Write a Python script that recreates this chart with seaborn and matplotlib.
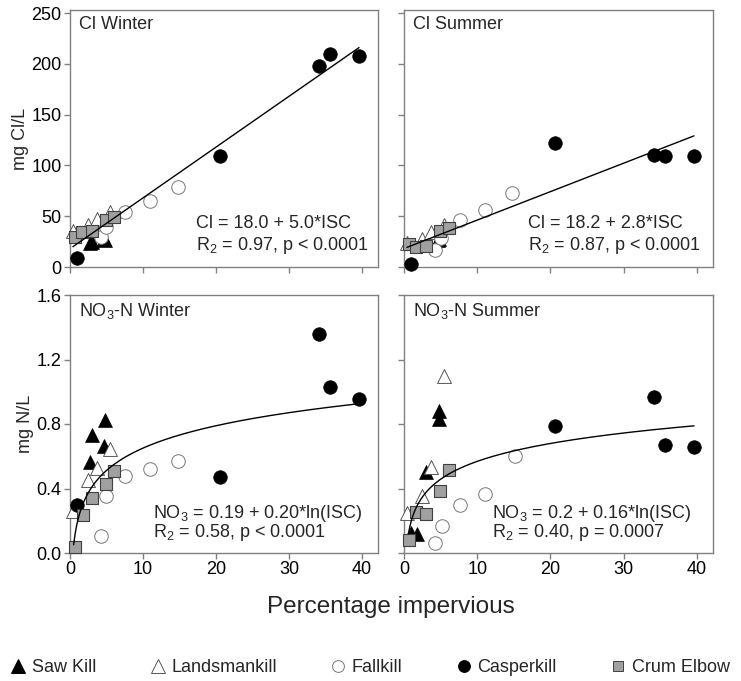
import numpy as np
import pandas as pd
import matplotlib
matplotlib.use("Agg")
import matplotlib.pyplot as plt
from matplotlib.lines import Line2D
import seaborn as sns

sns.set_style("ticks")
plt.rcParams['font.family'] = ['Liberation Sans', 'DejaVu Sans']
plt.rcParams['mathtext.fontset'] = 'custom'
plt.rcParams['mathtext.rm'] = 'Liberation Sans'
plt.rcParams['mathtext.it'] = 'Liberation Sans'

site_names = ["Saw Kill", "Landsmankill", "Fallkill", "Casperkill", "Crum Elbow"]

# Cl winter (mg Cl/L)
clw_site = ["Saw Kill"]*4 + ["Landsmankill"]*4 + ["Fallkill"]*5 + ["Casperkill"]*5 + ["Crum Elbow"]*5
clw_x = [2.7, 3.0, 4.6, 4.8,  0.4, 2.4, 3.7, 5.5,  4.3, 5.0, 7.6, 11.0, 14.8,
         1.0, 20.6, 34.1, 35.6, 39.6,  0.7, 1.7, 3.0, 4.9, 6.0]
clw_y = [24, 25, 28, 27,  35, 41, 47, 54,  30, 39, 54, 65, 79,
         8.5, 109, 198, 210, 208,  30, 34, 35, 46, 49]

# Cl summer (mg Cl/L)
cls_site = ["Saw Kill"]*4 + ["Landsmankill"]*4 + ["Fallkill"]*5 + ["Casperkill"]*5 + ["Crum Elbow"]*5
cls_x = [2.7, 3.0, 4.6, 4.8,  0.4, 2.4, 3.7, 5.5,  4.3, 5.0, 7.6, 11.0, 14.8,
         1.0, 20.6, 34.1, 35.6, 39.6,  0.7, 1.7, 3.0, 4.9, 6.1]
cls_y = [22, 23, 27, 28,  24, 28, 34, 41,  17, 29, 46, 56, 73,
         2.5, 122, 110, 109, 109,  23, 20, 21, 35, 38]

# NO3-N winter (mg N/L)
nw_site = ["Saw Kill"]*4 + ["Landsmankill"]*4 + ["Fallkill"]*5 + ["Casperkill"]*5 + ["Crum Elbow"]*5
nw_x = [2.7, 3.0, 4.6, 4.8,  0.4, 2.4, 3.7, 5.5,  4.3, 5.0, 7.6, 11.0, 14.8,
        1.0, 20.6, 34.1, 35.6, 39.6,  0.7, 1.8, 3.0, 5.0, 6.0]
nw_y = [0.566, 0.73, 0.665, 0.825,  0.26, 0.45, 0.53, 0.645,  0.107, 0.353, 0.48, 0.52, 0.57,
        0.30, 0.47, 1.36, 1.03, 0.953,  0.035, 0.235, 0.34, 0.43, 0.51]

# NO3-N summer (mg N/L)
ns_site = ["Saw Kill"]*5 + ["Landsmankill"]*4 + ["Fallkill"]*5 + ["Casperkill"]*4 + ["Crum Elbow"]*5
ns_x = [0.9, 1.8, 3.0, 4.8, 4.8,  0.4, 2.5, 3.7, 5.5,  4.3, 5.2, 7.7, 11.1, 15.1,
        20.6, 34.1, 35.6, 39.6,  0.7, 1.7, 3.0, 4.9, 6.1]
ns_y = [0.125, 0.12, 0.50, 0.83, 0.88,  0.25, 0.354, 0.535, 1.10,  0.06, 0.167, 0.298, 0.364, 0.604,
        0.79, 0.966, 0.67, 0.66,  0.08, 0.256, 0.24, 0.386, 0.515]

panel_titles = ["Cl Winter", "Cl Summer", r"NO$_3$-N Winter", r"NO$_3$-N Summer"]
eq_lines = [r"Cl = 18.0 + 5.0*ISC", r"Cl = 18.2 + 2.8*ISC",
            r"NO$_3$ = 0.19 + 0.20*ln(ISC)", r"NO$_3$ = 0.2 + 0.16*ln(ISC)"]
stat_lines = [r"R$_2$ = 0.97, p < 0.0001", r"R$_2$ = 0.87, p < 0.0001",
              r"R$_2$ = 0.58, p < 0.0001", r"R$_2$ = 0.40, p = 0.0007"]
fit_a = [18.0, 18.2, 0.19, 0.2]
fit_b = [5.0, 2.8, 0.20, 0.16]
fit_log = [False, False, True, True]
fit_start = [0.4, 0.4, 0.5, 0.6]

cl_ticks = [0, 50, 100, 150, 200, 250]
n_ticks = [0.0, 0.4, 0.8, 1.2, 1.6]
x_ticks = [0, 10, 20, 30, 40]

styles = {
    "Saw Kill":     dict(marker="^", color="black", edgecolor="black", s=100, linewidth=0.5),
    "Landsmankill": dict(marker="^", color="white", edgecolor="#555555", s=100, linewidth=0.7),
    "Fallkill":     dict(marker="o", color="white", edgecolor="#777777", s=95, linewidth=0.7),
    "Casperkill":   dict(marker="o", color="black", edgecolor="black", s=95, linewidth=0.5),
    "Crum Elbow":   dict(marker="s", color="#a0a0a0", edgecolor="#404040", s=64, linewidth=0.8),
}
legend_size = {"Saw Kill": 10, "Landsmankill": 10, "Fallkill": 8.5, "Casperkill": 8.5, "Crum Elbow": 7.5}

W, H = 741, 681
fig = plt.figure(figsize=(W / 100, H / 100), dpi=100)

def rect(l, t, r, b):
    return [l / W, (H - b) / H, (r - l) / W, (b - t) / H]

axes = [fig.add_axes(rect(70, 10, 378, 267)), fig.add_axes(rect(404, 10, 713, 267)),
        fig.add_axes(rect(70, 295, 378, 553)), fig.add_axes(rect(404, 295, 713, 553))]

panel_data = [(clw_site, clw_x, clw_y), (cls_site, cls_x, cls_y),
              (nw_site, nw_x, nw_y), (ns_site, ns_x, ns_y)]

eq_x = [0.41, 0.40, 0.27, 0.285]
eq_y = [(0.17, 0.085), (0.17, 0.085), (0.155, 0.08), (0.155, 0.08)]

for i, ax in enumerate(axes):
    df = pd.DataFrame({"site": panel_data[i][0], "x": panel_data[i][1], "y": panel_data[i][2]})
    for k, name in enumerate(site_names):
        d = df[df.site == name]
        sns.scatterplot(data=d, x="x", y="y", ax=ax, zorder=3 + k, clip_on=False, **styles[name])

    xs = np.linspace(fit_start[i], 39.6, 200)
    if fit_log[i]:
        ys = fit_a[i] + fit_b[i] * np.log(xs)
    else:
        ys = fit_a[i] + fit_b[i] * xs
    sns.lineplot(x=xs, y=ys, ax=ax, color="black", linewidth=1.0, zorder=10)

    ax.set_xlim(0, 42.2)
    if i < 2:
        ax.set_ylim(0, 253)
        ax.set_yticks(cl_ticks)
    else:
        ax.set_ylim(0, 1.6)
        ax.set_yticks(n_ticks)
        ax.set_yticklabels([f"{t:.1f}" for t in n_ticks])
    ax.set_xticks(x_ticks)
    ax.set_xlabel("")
    ax.set_ylabel("")
    if i < 2:
        ax.set_xticklabels([])
    if i % 2 == 1:
        ax.set_yticklabels([])
    for sp in ax.spines.values():
        sp.set_visible(True)
        sp.set_color("#808080")
        sp.set_linewidth(1.0)
    ax.tick_params(direction="out", length=4, width=1, color="#808080",
                   labelsize=13, labelcolor="black", pad=2)

    ax.text(0.03, 0.975, panel_titles[i], transform=ax.transAxes, ha="left", va="top", fontsize=13)
    ax.text(eq_x[i], eq_y[i][0], eq_lines[i], transform=ax.transAxes, ha="left", va="center", fontsize=13)
    ax.text(eq_x[i], eq_y[i][1], stat_lines[i], transform=ax.transAxes, ha="left", va="center", fontsize=13)

axes[0].set_ylabel("mg Cl/L", fontsize=13, labelpad=2)
axes[2].set_ylabel("mg N/L", fontsize=13, labelpad=2)
fig.text(391 / W, 1 - 607 / H, "Percentage impervious", ha="center", va="center", fontsize=17.5)

handles = []
for name in site_names:
    st = styles[name]
    handles.append(Line2D([], [], linestyle="none", marker=st["marker"], markerfacecolor=st["color"],
                          markeredgecolor=st["edgecolor"], markeredgewidth=0.7,
                          markersize=legend_size[name], label=name))
fig.legend(handles=handles, loc="center", bbox_to_anchor=(0.5, 1 - 668 / H), ncol=5, frameon=False,
           fontsize=13, handlelength=0.8, handletextpad=0.35, columnspacing=3.0, borderaxespad=0)

fig.savefig("out.png", dpi=100)
